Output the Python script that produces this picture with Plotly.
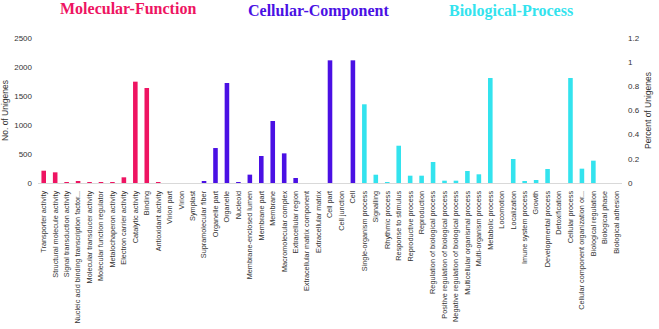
import plotly.graph_objects as go

# ---- data ----
mf_labels = ["Transporter activity", "Structural molecule activity", "Signal transduction activity",
             "Nucleic acid binding transcription factor...", "Molecular transducer activity",
             "Molecular function regulator", "Metalochaperon activity", "Electron carrier activity",
             "Catalytic activity", "Binding", "Antioxidant activity"]
mf_values = [212, 184, 17, 25, 3, 17, 2, 98, 1747, 1638, 17]

cc_labels = ["Virion part", "Virion", "Symplast", "Supramolecular fiber", "Organelle part", "Organelle",
             "Nucleoid", "Membrane-enclosed lumen", "Membrane part", "Membrane", "Macromolecular complex",
             "Extracellular region", "Extracellular matrix component", "Extracellular matrix",
             "Cell part", "Cell junction", "Cell"]
cc_values = [0, 0, 0, 25, 603, 1724, 3, 144, 466, 1069, 511, 86, 0, 0, 2115, 0, 2115]

bp_labels = ["Single-organism process", "Signalling", "Rhythmic process", "Response to stimulus",
             "Reproductive process", "Reproduction", "Regulation of biological process",
             "Positive regulation of biological process", "Negative regulation of biological process",
             "Multicellular organismal process", "Multi-organism process", "Metabolic process",
             "Locomotion", "Localization", "Imune system process", "Growth", "Developmental process",
             "Detoxification", "Cellular process", "Cellular component organization or...",
             "Biological regulation", "Biological phase", "Biological adhesion"]
bp_values = [1357, 143, 3, 643, 126, 126, 362, 40, 40, 207, 150, 1810, 0, 414, 35, 52, 241, 0,
             1810, 247, 385, 0, 0]

group_titles = ["Molecular-Function", "Cellular-Component", "Biological-Process"]
left_ticks = [0, 500, 1000, 1500, 2000, 2500]
right_ticks = [0, 0.2, 0.4, 0.6, 0.8, 1, 1.2]

# ---- style ----
C_MF = "#EE1462"
C_CC = "#4A10E4"
C_BP = "#33E3EE"
FONT = "Liberation Sans"

labels = mf_labels + cc_labels + bp_labels
values = mf_values + cc_values + bp_values
colors = [C_MF] * len(mf_labels) + [C_CC] * len(cc_labels) + [C_BP] * len(bp_labels)

fig = go.Figure()
fig.add_trace(go.Bar(x=labels, y=values, marker=dict(color=colors, line=dict(width=0)),
                     showlegend=False, hoverinfo="x+y"))
# helper trace so the secondary axis is drawn
fig.add_trace(go.Scatter(x=[labels[0]], y=[0], yaxis="y2", mode="lines",
                         line=dict(width=0), showlegend=False, hoverinfo="skip"))

fig.update_layout(
    width=659, height=329,
    margin=dict(l=38, r=37, t=38, b=146),
    paper_bgcolor="white", plot_bgcolor="white",
    bargap=0.6,
    font=dict(family=FONT, color="#333333"),
    xaxis=dict(tickangle=-90, tickfont=dict(size=7.3, family=FONT, color="#333333"),
               range=[-0.5, len(labels) - 0.5],
               showline=True, linecolor="#D9D9D9", linewidth=1, showgrid=False,
               ticks="", ticklabelstandoff=4, automargin=False),
    yaxis=dict(range=[0, 2500], tickvals=left_ticks, showgrid=False, zeroline=False,
               tickfont=dict(size=8, color="#333333"),
               title=dict(text="No. of Unigenes", font=dict(size=8.5, color="#333333"), standoff=6),
               ticklabelstandoff=5, automargin=False),
    yaxis2=dict(range=[0, 1.2], tickvals=right_ticks, overlaying="y", side="right",
                showgrid=False, zeroline=False, tickfont=dict(size=8, color="#333333"),
                title=dict(text="Percent of Unigenes", font=dict(size=8.5, color="#333333"), standoff=6),
                ticklabelstandoff=5, automargin=False),
)

title_x = [128, 318, 511]
title_y = [8, 11, 11]
title_colors = [C_MF, C_CC, C_BP]
for t, xp, yp, c in zip(group_titles, title_x, title_y, title_colors):
    fig.add_annotation(text="<b>%s</b>" % t, xref="paper", yref="paper",
                       x=(xp - 38) / (659 - 38 - 37), y=1 + (38 - yp) / 145,
                       xanchor="center", yanchor="middle", showarrow=False,
                       font=dict(family="Liberation Serif", size=16, color=c))

fig.write_html("out.html", config={"displayModeBar": False},
               post_script="document.body.style.margin='0';")
